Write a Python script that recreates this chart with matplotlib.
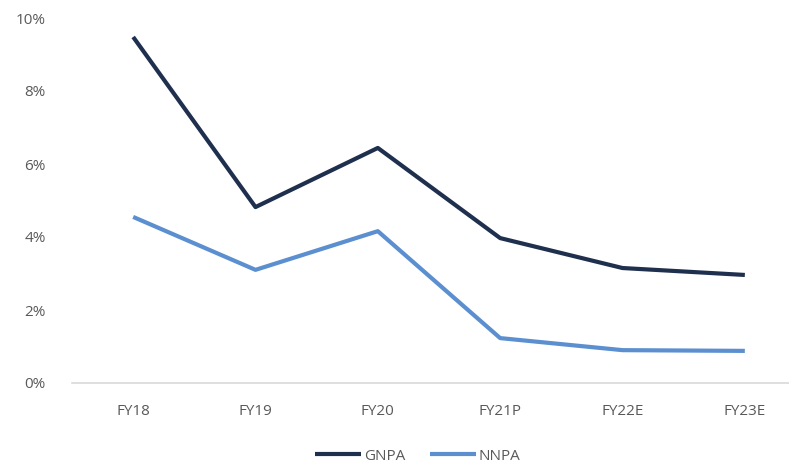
import matplotlib
matplotlib.use("Agg")
import matplotlib.pyplot as plt
from matplotlib.ticker import PercentFormatter

# Data (percent)
years = ["FY18", "FY19", "FY20", "FY21P", "FY22E", "FY23E"]
gnpa = [9.48, 4.82, 6.44, 3.97, 3.15, 2.96]
nnpa = [4.55, 3.10, 4.16, 1.23, 0.90, 0.88]

plt.rcParams["font.family"] = ["Open Sans", "DejaVu Sans"]

fig = plt.figure(figsize=(7.89, 4.68), dpi=100)
ax = fig.add_axes([72 / 789, 85 / 468, 734 / 789, 365 / 468])

x = range(len(years))
ax.plot(x, gnpa, color="#1f2f4e", linewidth=3, label="GNPA", solid_capstyle="butt")
ax.plot(x, nnpa, color="#5b8fd0", linewidth=3, label="NNPA", solid_capstyle="butt")

ax.set_xlim(-0.5, len(years) - 0.5)
ax.set_ylim(0, 10)
ax.set_yticks([0, 2, 4, 6, 8, 10])
ax.yaxis.set_major_formatter(PercentFormatter(decimals=0))
ax.set_xticks(list(x))
ax.set_xticklabels(years)

for side in ["top", "right", "left"]:
    ax.spines[side].set_visible(False)
ax.spines["bottom"].set_color("#d9d9d9")
ax.spines["bottom"].set_linewidth(1.2)
ax.tick_params(axis="both", length=0, labelsize=11, colors="#595959")
ax.tick_params(axis="y", pad=19)
ax.tick_params(axis="x", pad=15)

fig.legend(loc="center", bbox_to_anchor=(418 / 789, 1 - 456 / 468), ncol=2,
           frameon=False, fontsize=11, handlelength=3.0, handletextpad=0.2,
           columnspacing=1.6, labelcolor="#595959")

fig.savefig("out.png", dpi=100)
